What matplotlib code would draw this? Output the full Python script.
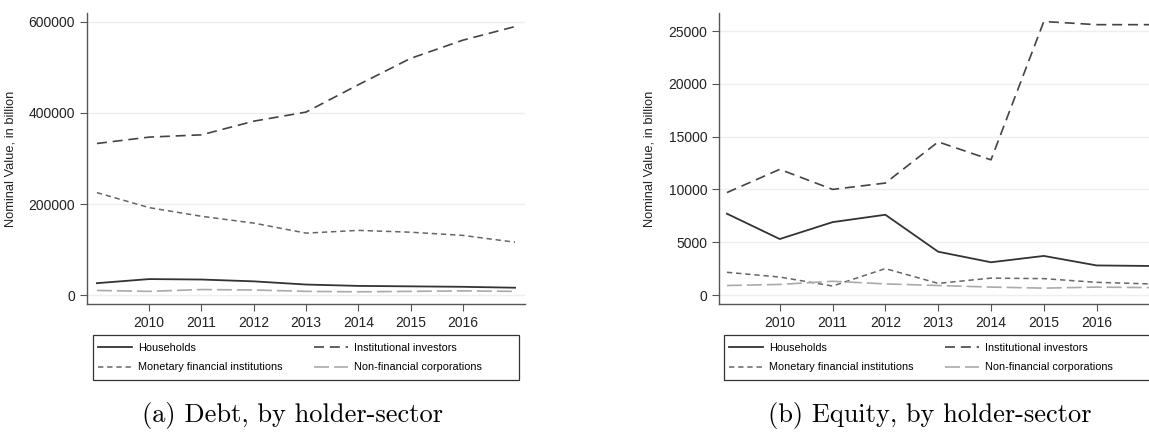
import matplotlib
matplotlib.use("Agg")
import matplotlib.pyplot as plt
from matplotlib.patches import Rectangle

years = [2009, 2010, 2011, 2012, 2013, 2014, 2015, 2016, 2017]
tick_years = [2010, 2011, 2012, 2013, 2014, 2015, 2016]

# debt, by holder-sector
debt_hh = [26000, 35000, 34000, 30000, 23000, 20000, 19000, 18000, 16000]
debt_inst = [333000, 347000, 352000, 382000, 402000, 462000, 520000, 560000, 590000]
debt_mfi = [225000, 192000, 173000, 158000, 136000, 142000, 138000, 131000, 116000]
debt_nfc = [10000, 8000, 12000, 11000, 8000, 7000, 8000, 9000, 8000]

# equity, by holder-sector
eq_hh = [7700, 5300, 6900, 7600, 4100, 3100, 3700, 2800, 2750]
eq_inst = [9700, 11900, 10000, 10600, 14500, 12800, 25900, 25600, 25600]
eq_mfi = [2150, 1700, 850, 2500, 1100, 1600, 1550, 1200, 1050]
eq_nfc = [900, 1000, 1300, 1050, 900, 750, 650, 750, 700]

plt.rcParams['font.family'] = ['Liberation Sans', 'DejaVu Sans']

W, H = 1149, 440
fig = plt.figure(figsize=(W/100, H/100), dpi=100)

def px(x0, y0, x1, y1):
    return [x0/W, 1-y1/H, (x1-x0)/W, (y1-y0)/H]

styles = [
    ('Households', dict(color='#333333', lw=1.3, ls='-')),
    ('Institutional investors', dict(color='#444444', lw=1.2, ls=(0, (6, 3.5)))),
    ('Monetary financial institutions', dict(color='#666666', lw=1.1, ls=(0, (3.5, 2.5)))),
    ('Non-financial corporations', dict(color='#aaaaaa', lw=1.2, ls=(0, (9, 3)))),
]

def panel(rect, series, ylim, yticks, xlim, box, caption, cap_x):
    ax = fig.add_axes(rect)
    handles = []
    for (name, st), vals in zip(styles, series):
        h, = ax.plot(years, vals, label=name, **st)
        handles.append(h)
    ax.set_xlim(*xlim)
    ax.set_ylim(*ylim)
    ax.set_yticks(yticks)
    ax.set_xticks(tick_years)
    ax.grid(axis='y', color='#e8f0f0', lw=1)
    ax.set_axisbelow(True)
    for s in ['top', 'right']:
        ax.spines[s].set_visible(False)
    for s in ['left', 'bottom']:
        ax.spines[s].set_color('#555555')
        ax.spines[s].set_linewidth(1)
    ax.tick_params(labelsize=10, length=5, color='#555555', labelcolor='#222222')
    ax.set_ylabel('Nominal Value, in billion', fontsize=9.3, color='#222222', labelpad=9)

    # legend box below the plot
    x0, y0, x1, y1 = box
    fig.patches.append(Rectangle((x0/W, 1-y1/H), (x1-x0)/W, (y1-y0)/H,
                                 transform=fig.transFigure, fill=False,
                                 edgecolor='#333333', lw=0.9))
    order = [handles[0], handles[2], handles[1], handles[3]]
    fig.legend(order, [h.get_label() for h in order], loc='upper left',
               bbox_to_anchor=((x0-3)/W, 1-y0/H), borderaxespad=0, ncol=2,
               fontsize=7.8, frameon=False, handlelength=3.1,
               handletextpad=0.6, borderpad=0.75, labelspacing=0.85,
               columnspacing=2.9)
    fig.text(cap_x/W, 1-415/H, caption, family='cmr10', fontsize=19,
             ha='center', va='center')
    return ax

panel(px(87, 13, 525, 304), [debt_hh, debt_inst, debt_mfi, debt_nfc],
      (-19780, 619780), [0, 200000, 400000, 600000], (2008.81, 2017.19),
      (93, 335, 519, 380), '(a) Debt, by holder-sector', 293)

panel(px(719, 13, 1160, 304), [eq_hh, eq_inst, eq_mfi, eq_nfc],
      (-852, 26705), [0, 5000, 10000, 15000, 20000, 25000], (2008.85, 2017.2),
      (724, 335, 1160, 380), '(b) Equity, by holder-sector', 930)

fig.savefig('out.png', dpi=100)
